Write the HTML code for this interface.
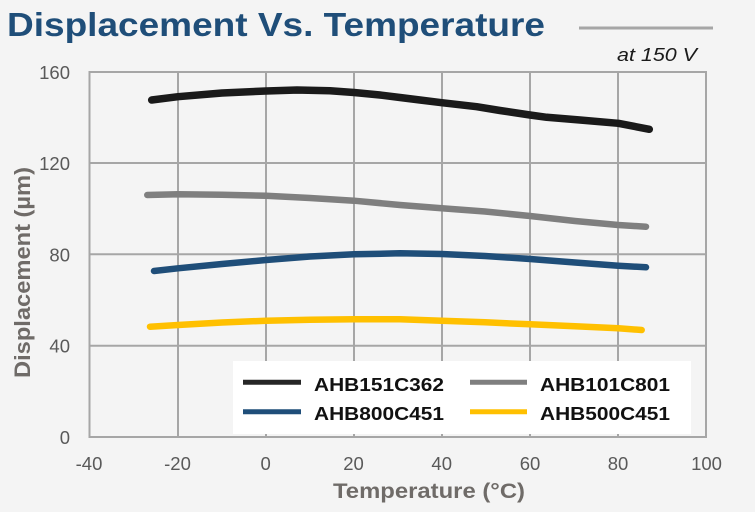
<!DOCTYPE html>
<html>
<head>
<meta charset="utf-8">
<style>
  html, body { margin:0; padding:0; background:#f4f4f4; }
  svg { display:block; }
  text { font-family: "Liberation Sans", Arial, sans-serif; }
</style>
</head>
<body>
<svg width="755" height="512" viewBox="0 0 755 512" xmlns="http://www.w3.org/2000/svg">
  <rect x="0" y="0" width="755" height="512" fill="#f4f4f4"/>

  <!-- Title -->
  <text x="7" y="36" font-size="33" font-weight="bold" fill="#1f4e79" textLength="538" lengthAdjust="spacingAndGlyphs">Displacement Vs. Temperature</text>
  <line x1="579" y1="28" x2="713" y2="28" stroke="#a6a6a6" stroke-width="3"/>
  <text x="617" y="61" font-size="18" font-style="italic" fill="#1a1a1a" textLength="80" lengthAdjust="spacingAndGlyphs">at 150 V</text>

  <!-- Gridlines -->
  <g stroke="#a6a6a6" stroke-width="2" fill="none">
    <line x1="178" y1="72" x2="178" y2="437"/>
    <line x1="266" y1="72" x2="266" y2="437"/>
    <line x1="354" y1="72" x2="354" y2="437"/>
    <line x1="442" y1="72" x2="442" y2="437"/>
    <line x1="530" y1="72" x2="530" y2="437"/>
    <line x1="618" y1="72" x2="618" y2="437"/>
    <line x1="89.5" y1="163" x2="706" y2="163"/>
    <line x1="89.5" y1="254.3" x2="706" y2="254.3"/>
    <line x1="89.5" y1="345.7" x2="706" y2="345.7"/>
    <rect x="89.5" y="72" width="616.5" height="365"/>
  </g>

  <!-- Legend box -->
  <rect x="233" y="361" width="458" height="73" fill="#ffffff"/>

  <!-- Series -->
  <g fill="none" stroke-linecap="round" stroke-linejoin="round">
    <polyline stroke="#1a1a1a" stroke-width="7.5" points="151.7,100 178,96.7 222,93 266,91 297,90 330,90.8 354,92.5 380,95 400,97.5 420,100 441.7,102.7 476.7,106.7 500,110.5 530,115 546.7,117.3 580,120 618.3,123.3 649.3,129.3"/>
    <polyline stroke="#7f7f7f" stroke-width="6.5" points="147.3,195 178,194.3 222,194.8 266,195.7 310,198 354,200.7 400,205 441.7,208.3 485,211.5 530,216 575,221 618.3,225 646,226.7"/>
    <polyline stroke="#1f4e79" stroke-width="6.5" points="154,271 178,268.3 222,264 266,260 310,256.5 354,254.3 400,253.3 441.7,254 485,256 530,259 575,262.5 618.3,265.7 646,267.3"/>
    <polyline stroke="#ffc000" stroke-width="6.5" points="150,326.7 178,325 222,322.5 266,320.7 310,319.8 354,319.3 400,319.3 441.7,320.7 485,322.3 530,324.3 575,326.2 618.3,328.3 641.7,330"/>
  </g>

  <!-- Legend entries -->
  <g stroke-width="5">
    <line x1="243" y1="382.3" x2="301" y2="382.3" stroke="#262626"/>
    <line x1="470" y1="382.3" x2="527" y2="382.3" stroke="#7f7f7f"/>
    <line x1="243" y1="411.7" x2="301" y2="411.7" stroke="#1f4e79"/>
    <line x1="470" y1="411.7" x2="527" y2="411.7" stroke="#ffc000"/>
  </g>
  <g font-size="18.5" font-weight="bold" fill="#111111">
    <text x="314" y="391" textLength="130" lengthAdjust="spacingAndGlyphs">AHB151C362</text>
    <text x="540" y="391" textLength="130" lengthAdjust="spacingAndGlyphs">AHB101C801</text>
    <text x="314" y="420" textLength="130" lengthAdjust="spacingAndGlyphs">AHB800C451</text>
    <text x="540" y="420" textLength="130" lengthAdjust="spacingAndGlyphs">AHB500C451</text>
  </g>

  <!-- X tick labels -->
  <g font-size="18.5" fill="#595959" text-anchor="middle">
    <text x="89" y="470">-40</text>
    <text x="177.5" y="470">-20</text>
    <text x="265.7" y="470">0</text>
    <text x="353.5" y="470">20</text>
    <text x="441.7" y="470">40</text>
    <text x="530" y="470">60</text>
    <text x="618" y="470">80</text>
    <text x="706.5" y="470">100</text>
  </g>

  <!-- Y tick labels -->
  <g font-size="18.5" fill="#595959" text-anchor="end">
    <text x="70" y="79">160</text>
    <text x="70" y="170">120</text>
    <text x="70" y="261.5">80</text>
    <text x="70" y="352.5">40</text>
    <text x="70" y="444">0</text>
  </g>

  <!-- Axis titles -->
  <text x="333" y="498" font-size="21" font-weight="bold" fill="#6f6b68" textLength="192" lengthAdjust="spacingAndGlyphs">Temperature (°C)</text>
  <text transform="translate(30,272.5) rotate(-90)" x="0" y="0" font-size="22" font-weight="bold" fill="#6f6b68" text-anchor="middle" textLength="211" lengthAdjust="spacingAndGlyphs">Displacement (µm)</text>
</svg>
</body>
</html>
